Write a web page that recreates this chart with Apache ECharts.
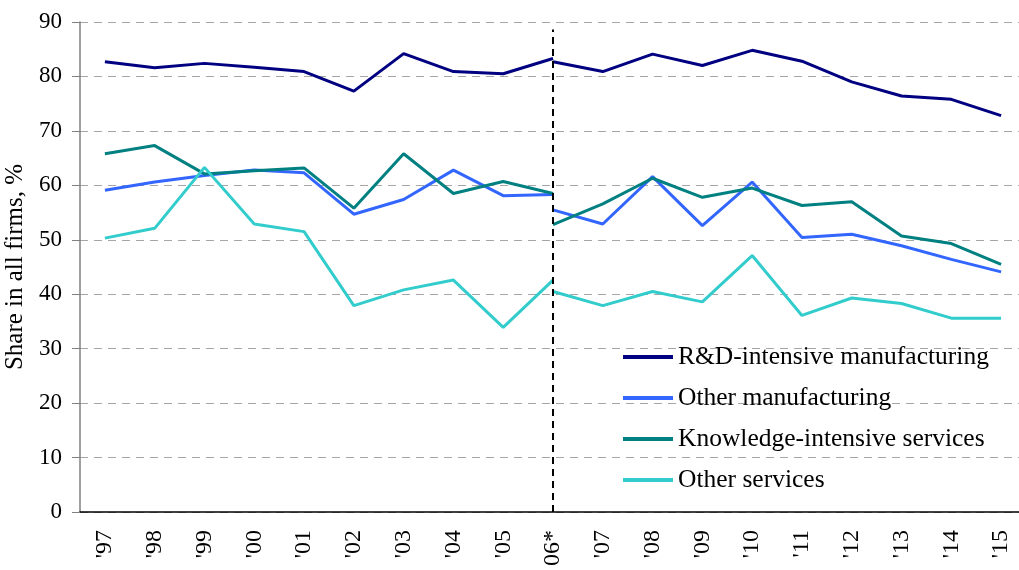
<!DOCTYPE html>
<html>
<head>
<meta charset="utf-8">
<script src="https://cdn.jsdelivr.net/npm/echarts@6/dist/echarts.min.js"></script>
<style>
html,body{margin:0;padding:0;background:#fff;}
#c{width:1019px;height:570px;}
</style>
</head>
<body>
<div id="c"></div>
<script>
// ---- data ----
var categories = ["'97","'98","'99","'00","'01","'02","'03","'04","'05","06*","'07","'08","'09","'10","'11","'12","'13","'14","'15"];
var breakCategory = "06*";
var yTicks = [0,10,20,30,40,50,60,70,80,90];

// values 1997 .. 2006 (old classification)
var rdManufA   = [82.7, 81.6, 82.4, 81.7, 80.9, 77.3, 84.2, 80.9, 80.5, 83.3];
var otherManufA= [59.1, 60.6, 61.8, 62.8, 62.3, 54.7, 57.4, 62.8, 58.1, 58.3];
var kisA       = [65.8, 67.3, 62.1, 62.7, 63.2, 55.8, 65.8, 58.5, 60.7, 58.5];
var otherServA = [50.3, 52.1, 63.3, 52.9, 51.5, 37.9, 40.8, 42.6, 33.9, 42.6];
// values 2006 .. 2015 (new classification)
var rdManufB   = [82.7, 80.9, 84.1, 82.0, 84.8, 82.8, 79.0, 76.4, 75.8, 72.8];
var otherManufB= [55.5, 52.9, 61.6, 52.6, 60.6, 50.4, 51.0, 48.9, 46.4, 44.1];
var kisB       = [52.8, 56.6, 61.3, 57.8, 59.5, 56.3, 57.0, 50.7, 49.3, 45.5];
var otherServB = [40.5, 37.9, 40.5, 38.6, 47.1, 36.1, 39.3, 38.3, 35.6, 35.6];

var seriesNames = ["R&D-intensive manufacturing","Other manufacturing","Knowledge-intensive services","Other services"];
var breakLineTop = 88.6;

// ---- build ----
var nAfter = categories.length - rdManufA.length;
var nBefore = categories.length - rdManufB.length;
function padA(a){ return a.concat(new Array(nAfter).fill(null)); }
function padB(b){ return new Array(nBefore).fill(null).concat(b); }

var colors = ['#000080','#3366FF','#008080','#33CCCC'];
var groups = [[rdManufA,rdManufB],[otherManufA,otherManufB],[kisA,kisB],[otherServA,otherServB]];
var FONT = 'Liberation Serif, Times New Roman, serif';

var series = [];
groups.forEach(function(g,i){
  [padA(g[0]), padB(g[1])].forEach(function(d){
    series.push({
      name: seriesNames[i], type:'line', data:d, symbol:'none',
      connectNulls:false, animation:false,
      lineStyle:{color:colors[i], width:3}, itemStyle:{color:colors[i]}
    });
  });
});
series[0].markLine = {
  symbol:'none', silent:true, animation:false,
  label:{show:false},
  lineStyle:{color:'#000', width:2, type:[7,5]},
  data:[[{coord:[breakCategory,0]},{coord:[breakCategory,breakLineTop]}]]
};

var chart = echarts.init(document.getElementById('c'));
chart.setOption({
  backgroundColor:'#fff',
  animation:false,
  grid:{left:80, top:22, width:946, height:490, containLabel:false, outerBoundsMode:'none'},
  legend:{
    orient:'vertical', left:618, top:339, itemGap:15,
    itemWidth:50, itemHeight:4, icon:'rect',
    data:seriesNames.map(function(n,i){return {name:n, itemStyle:{color:colors[i]}};}),
    textStyle:{fontFamily:FONT, fontSize:25.5, color:'#000', lineHeight:26}
  },
  xAxis:{
    type:'category', data:categories, boundaryGap:true,
    axisLine:{lineStyle:{color:'#000', width:1.5}},
    axisTick:{show:false},
    axisLabel:{rotate:90, margin:18, fontFamily:FONT, fontSize:24, color:'#000', interval:0},
    splitLine:{show:false}
  },
  yAxis:{
    type:'value', min:yTicks[0], max:yTicks[yTicks.length-1], interval:10,
    name:'Share in all firms, %', nameLocation:'middle', nameGap:44, nameRotate:90,
    nameTextStyle:{fontFamily:FONT, fontSize:25, color:'#000'},
    axisLine:{show:true, lineStyle:{color:'#808080', width:1.5}},
    axisTick:{show:true, length:8, lineStyle:{color:'#808080'}},
    axisLabel:{fontFamily:FONT, fontSize:23, color:'#000', margin:18},
    splitLine:{show:true, lineStyle:{color:'#A6A6A6', type:[8,6], width:1}}
  },
  series:series
});
</script>
</body>
</html>
